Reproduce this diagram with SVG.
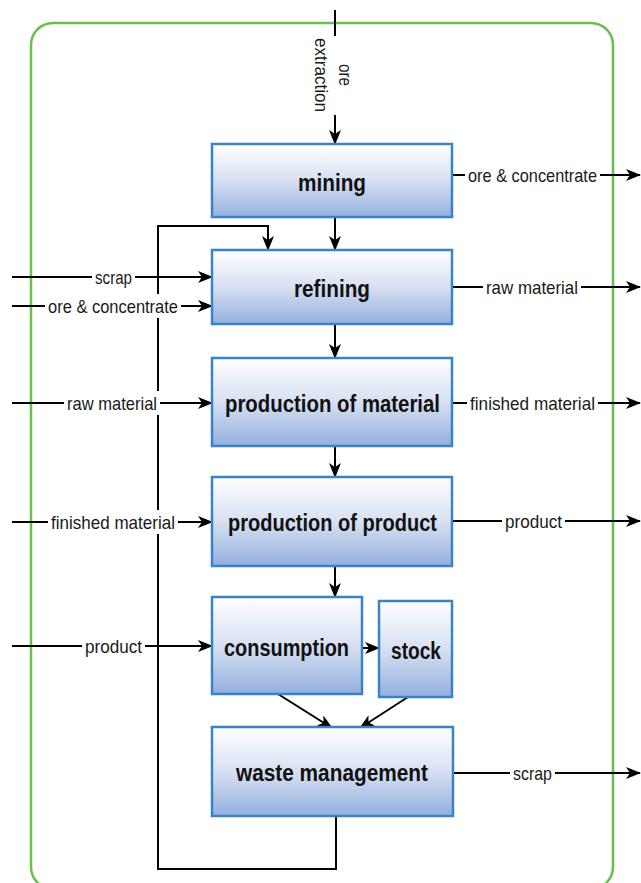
<svg xmlns="http://www.w3.org/2000/svg" width="641" height="883" viewBox="0 0 641 883">
<defs>
<linearGradient id="boxg" x1="0" y1="0" x2="0" y2="1">
<stop offset="0" stop-color="#ffffff"/>
<stop offset="0.5" stop-color="#d7e0f2"/>
<stop offset="1" stop-color="#93b0de"/>
</linearGradient>
<marker id="ah" markerWidth="15" markerHeight="12" refX="14" refY="6" orient="auto" markerUnits="userSpaceOnUse">
<path d="M0,0 L15,6 L0,12 L4,6 Z" fill="#000"/>
</marker>
</defs>
<style>
.box{fill:url(#boxg);stroke:#3a84c6;stroke-width:2.5}
.t{font-family:"Liberation Sans",Arial,sans-serif;font-weight:bold;font-size:23px;fill:#111;text-anchor:middle}
.l{font-family:"Liberation Sans",Arial,sans-serif;font-size:19px;fill:#1a1a1a;text-anchor:middle}
.a{fill:none;stroke:#000;stroke-width:2;marker-end:url(#ah)}
.bg{fill:#fff}
</style>
<rect id="boundary" x="31" y="23" width="582" height="866" rx="22" ry="22" fill="none" stroke="#6abf4b" stroke-width="2.5"/>
<g id="connectors">
<line class="a" x1="335" y1="10" x2="335" y2="144"/>
<line class="a" x1="335" y1="217" x2="335" y2="250"/>
<line class="a" x1="335" y1="324" x2="335" y2="358"/>
<line class="a" x1="335" y1="446" x2="335" y2="477"/>
<line class="a" x1="335" y1="566" x2="335" y2="597"/>
<line class="a" x1="362" y1="648" x2="379" y2="648"/>
<line class="a" x1="278" y1="694" x2="332" y2="728"/>
<line class="a" x1="408" y1="697" x2="360" y2="728"/>
<polyline class="a" points="336,816 336,869 158,869 158,226 268,226 268,250"/>
<line class="a" x1="12" y1="277" x2="212" y2="277"/>
<line class="a" x1="12" y1="306" x2="212" y2="306"/>
<line class="a" x1="12" y1="403" x2="212" y2="403"/>
<line class="a" x1="12" y1="522" x2="212" y2="522"/>
<line class="a" x1="12" y1="646" x2="212" y2="646"/>
<line class="a" x1="452" y1="175" x2="640" y2="175"/>
<line class="a" x1="452" y1="287" x2="640" y2="287"/>
<line class="a" x1="452" y1="403" x2="640" y2="403"/>
<line class="a" x1="452" y1="521" x2="640" y2="521"/>
<line class="a" x1="452" y1="773" x2="640" y2="773"/>
</g>
<g id="labels">
<rect class="bg" x="312" y="36" width="44" height="79"/>
<text class="l" transform="translate(335,75) rotate(90)"><tspan x="0" y="-4" textLength="22" lengthAdjust="spacingAndGlyphs">ore</tspan><tspan x="0" y="20" textLength="74" lengthAdjust="spacingAndGlyphs">extraction</tspan></text>
<rect class="bg" x="92" y="265" width="43" height="24"/>
<text class="l" x="113.5" y="283.5" textLength="37" lengthAdjust="spacingAndGlyphs">scrap</text>
<rect class="bg" x="45" y="294" width="136" height="24"/>
<text class="l" x="113" y="312.5" textLength="130" lengthAdjust="spacingAndGlyphs">ore &amp; concentrate</text>
<rect class="bg" x="64" y="391" width="96" height="24"/>
<text class="l" x="112" y="409.5" textLength="90" lengthAdjust="spacingAndGlyphs">raw material</text>
<rect class="bg" x="48" y="510" width="130" height="24"/>
<text class="l" x="113" y="528.5" textLength="124" lengthAdjust="spacingAndGlyphs">finished material</text>
<rect class="bg" x="82" y="634" width="63" height="24"/>
<text class="l" x="113.5" y="652.5" textLength="57" lengthAdjust="spacingAndGlyphs">product</text>
<rect class="bg" x="465" y="163" width="135" height="24"/>
<text class="l" x="532.5" y="181.5" textLength="129" lengthAdjust="spacingAndGlyphs">ore &amp; concentrate</text>
<rect class="bg" x="483" y="275" width="98" height="24"/>
<text class="l" x="532" y="293.5" textLength="92" lengthAdjust="spacingAndGlyphs">raw material</text>
<rect class="bg" x="467" y="391" width="131" height="24"/>
<text class="l" x="532.5" y="409.5" textLength="125" lengthAdjust="spacingAndGlyphs">finished material</text>
<rect class="bg" x="502" y="509" width="63" height="24"/>
<text class="l" x="533.5" y="527.5" textLength="57" lengthAdjust="spacingAndGlyphs">product</text>
<rect class="bg" x="510" y="761" width="45" height="24"/>
<text class="l" x="532.5" y="779.5" textLength="39" lengthAdjust="spacingAndGlyphs">scrap</text>
</g>
<g id="mining"><rect class="box" x="212" y="144" width="240" height="73"/><text class="t" x="332" y="190.5" textLength="68" lengthAdjust="spacingAndGlyphs">mining</text></g>
<g id="refining"><rect class="box" x="212" y="250" width="240" height="74"/><text class="t" x="332" y="296.5" textLength="76" lengthAdjust="spacingAndGlyphs">refining</text></g>
<g id="production-material"><rect class="box" x="212" y="358" width="240" height="88"/><text class="t" x="332.5" y="412" textLength="215" lengthAdjust="spacingAndGlyphs">production of material</text></g>
<g id="production-product"><rect class="box" x="212" y="477" width="240" height="89"/><text class="t" x="332.5" y="531" textLength="209" lengthAdjust="spacingAndGlyphs">production of product</text></g>
<g id="consumption"><rect class="box" x="212" y="597" width="150" height="97"/><text class="t" x="286.5" y="656" textLength="125" lengthAdjust="spacingAndGlyphs">consumption</text></g>
<g id="stock"><rect class="box" x="379" y="601" width="73" height="96"/><text class="t" x="416" y="659" textLength="50" lengthAdjust="spacingAndGlyphs">stock</text></g>
<g id="waste-management"><rect class="box" x="212" y="727" width="241" height="89"/><text class="t" x="332" y="780.5" textLength="192" lengthAdjust="spacingAndGlyphs">waste management</text></g>
</svg>
